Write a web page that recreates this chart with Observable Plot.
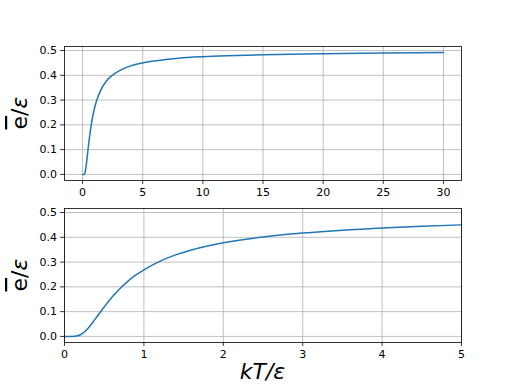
<!DOCTYPE html>
<html>
<head>
<meta charset="utf-8">
<script src="https://cdn.jsdelivr.net/npm/d3@7"></script>
<script src="https://cdn.jsdelivr.net/npm/@observablehq/plot@0.6"></script>
<style>
  html, body { margin: 0; padding: 0; background: #fff; }
  #chart { width: 512px; height: 384px; position: relative; }
  svg { display: block; }
</style>
</head>
<body>
<div id="chart"></div>
<script>
// Top panel: kT/ε from 0 to 30
const tTop = [0, 0.1, 0.15, 0.2, 0.25, 0.3, 0.4, 0.5, 0.7, 1, 1.5, 2, 2.5, 3, 4, 5, 6, 8, 10, 12, 15, 20, 25, 30];
const eTop = [0, 0.0000, 0.0013, 0.0067, 0.018, 0.034, 0.076, 0.119, 0.193, 0.269, 0.339, 0.378, 0.401, 0.417, 0.438, 0.450, 0.458, 0.469, 0.475, 0.479, 0.483, 0.4875, 0.490, 0.4917];
// Bottom panel: kT/ε from 0 to 5
const tBot = [0, 0.1, 0.15, 0.2, 0.25, 0.3, 0.35, 0.4, 0.5, 0.6, 0.7, 0.8, 0.9, 1.0, 1.2, 1.4, 1.6, 1.8, 2.0, 2.5, 3, 3.5, 4, 4.5, 5];
const eBot = [0, 0.0000, 0.0013, 0.0067, 0.018, 0.034, 0.054, 0.076, 0.119, 0.159, 0.193, 0.223, 0.248, 0.269, 0.303, 0.329, 0.349, 0.365, 0.378, 0.401, 0.417, 0.429, 0.438, 0.4447, 0.4502];
const xTicksTop = [0, 5, 10, 15, 20, 25, 30];
const xTicksBot = [0, 1, 2, 3, 4, 5];
const yTicks = [0, 0.1, 0.2, 0.3, 0.4, 0.5];
const yDomain = [-0.0246, 0.5163];

const topData = tTop.map((t, i) => ({t, e: eTop[i]}));
const botData = tBot.map((t, i) => ({t, e: eBot[i]}));

const gridStyle = {stroke: "#b0b0b0", strokeOpacity: 1, strokeWidth: 0.8};
const lineColor = "#1f77b4";

function panel(data, xDomain, xTicks, xFmt, opts) {
  return Plot.plot({
    width: 512,
    height: opts.height,
    marginLeft: 64,
    marginRight: 51,
    marginTop: opts.mt,
    marginBottom: opts.mb,
    style: {fontFamily: "DejaVu Sans", fontSize: "11px", color: "#000", background: "#fff", overflow: "visible"},
    x: {domain: xDomain, label: null},
    y: {domain: yDomain, label: null},
    marks: [
      Plot.gridX(xTicks, gridStyle),
      Plot.gridY(yTicks, gridStyle),
      Plot.line(data, {x: "t", y: "e", stroke: lineColor, strokeWidth: 1.5, curve: "monotone-x"}),
      Plot.frame({stroke: "#000", strokeWidth: 0.8}),
      Plot.axisX(xTicks, {tickSize: 3.9, tickPadding: 3.5, tickFormat: xFmt, label: null, stroke: "#000", strokeWidth: 0.8, fill: "#000", fontSize: 11}),
      Plot.axisY(yTicks, {tickSize: 3.9, tickPadding: 3.5, tickFormat: d3.format(".1f"), label: null, stroke: "#000", strokeWidth: 0.8, fill: "#000", fontSize: 11})
    ]
  });
}

const p1 = panel(topData, [-1.5, 31.5], xTicksTop, d3.format("d"), {height: 200, mt: 46, mb: 20});
const p2 = panel(botData, [0, 5], xTicksBot, d3.format("d"), {height: 184, mt: 8, mb: 42});

function yLabel(svg, cy) {
  const t = d3.select(svg).append("text")
    .attr("transform", `translate(27,${cy}) rotate(-90)`)
    .attr("text-anchor", "middle")
    .attr("font-family", "DejaVu Sans")
    .attr("font-size", 22)
    .attr("fill", "#000");
  t.append("tspan").attr("text-decoration", "overline").text("e");
  t.append("tspan").text("/");
  t.append("tspan").attr("font-style", "italic").text("ε");
}
yLabel(p1, 113);
yLabel(p2, 75);
d3.select(p2).append("text")
  .attr("x", 262.5).attr("y", 179)
  .attr("text-anchor", "middle")
  .attr("font-family", "DejaVu Sans")
  .attr("font-size", 22)
  .attr("font-style", "italic")
  .attr("fill", "#000")
  .text("kT/ε");

const c = document.getElementById("chart");
c.appendChild(p1);
c.appendChild(p2);
</script>
</body>
</html>
